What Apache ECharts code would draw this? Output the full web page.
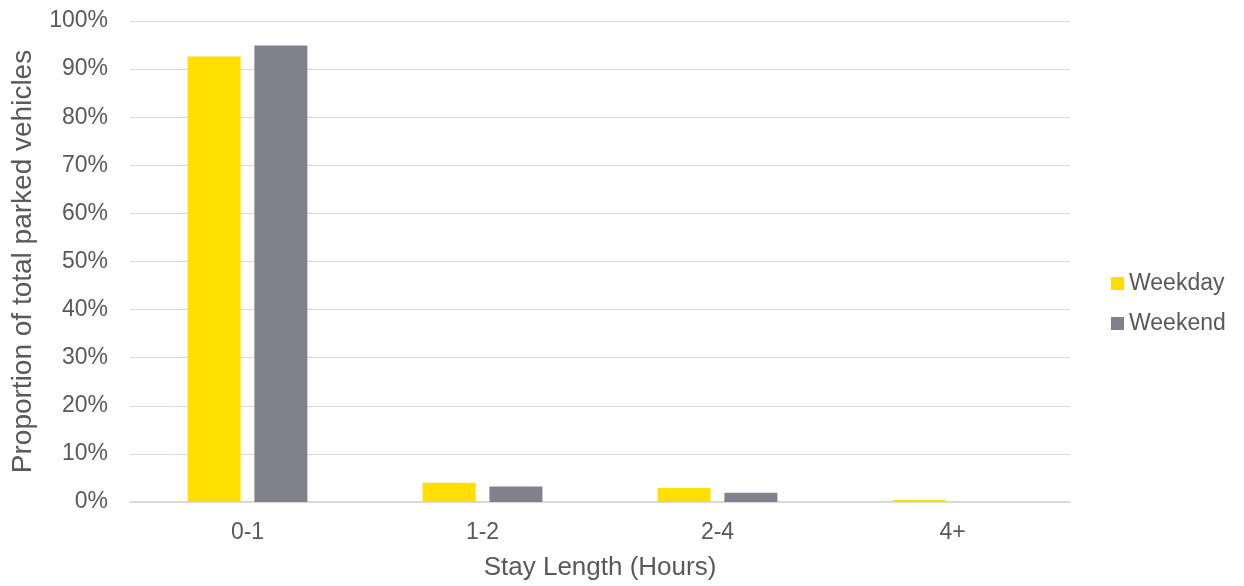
<!DOCTYPE html>
<html>
<head>
<meta charset="utf-8">
<script src="https://cdn.jsdelivr.net/npm/echarts@6/dist/echarts.min.js"></script>
<style>
  html, body { margin: 0; padding: 0; background: #fff; }
  #chart { width: 1244px; height: 586px; }
</style>
</head>
<body>
<div id="chart"></div>
<script>
// chart data
const categories = ['0-1', '1-2', '2-4', '4+'];
const weekday = [92.6, 4.0, 2.9, 0.4];
const weekend = [94.9, 3.2, 1.9, 0.0];

const chart = echarts.init(document.getElementById('chart'));

const labelColor = '#595959';
const fontFamily = 'Liberation Sans, Arial, sans-serif';

const option = {
    animation: false,
    textStyle: { fontFamily: fontFamily },
    grid: { left: 130, right: 174, top: 21, bottom: 84 },
    legend: {
        orient: 'vertical',
        left: 1106,
        top: 267,
        itemWidth: 13,
        itemHeight: 13,
        itemGap: 17,
        icon: 'rect',
        textStyle: { fontSize: 23, color: labelColor, fontFamily: fontFamily },
        data: ['Weekday', 'Weekend']
    },
    xAxis: {
        type: 'category',
        data: categories,
        name: 'Stay Length (Hours)',
        nameLocation: 'middle',
        nameGap: 53,
        nameTextStyle: { fontSize: 26, color: labelColor },
        axisLine: { lineStyle: { color: '#d9d9d9', width: 2 } },
        axisTick: { show: false },
        axisLabel: { fontSize: 23, color: labelColor, margin: 19 }
    },
    yAxis: {
        type: 'value',
        min: 0,
        max: 100,
        interval: 10,
        name: 'Proportion of total parked vehicles',
        nameLocation: 'middle',
        nameGap: 93,
        nameTextStyle: { fontSize: 28, color: labelColor },
        axisLine: { show: false },
        axisTick: { show: false },
        axisLabel: { fontSize: 23, color: labelColor, margin: 22, formatter: '{value}%' },
        splitLine: { lineStyle: { color: '#d9d9d9', width: 1 } }
    },
    series: [
        {
            name: 'Weekday',
            type: 'bar',
            data: weekday,
            barWidth: 53,
            barGap: '26%',
            itemStyle: { color: '#ffdf00' }
        },
        {
            name: 'Weekend',
            type: 'bar',
            data: weekend,
            barWidth: 53,
            itemStyle: { color: '#80818c' }
        }
    ]
};

chart.setOption(option);
</script>
</body>
</html>
